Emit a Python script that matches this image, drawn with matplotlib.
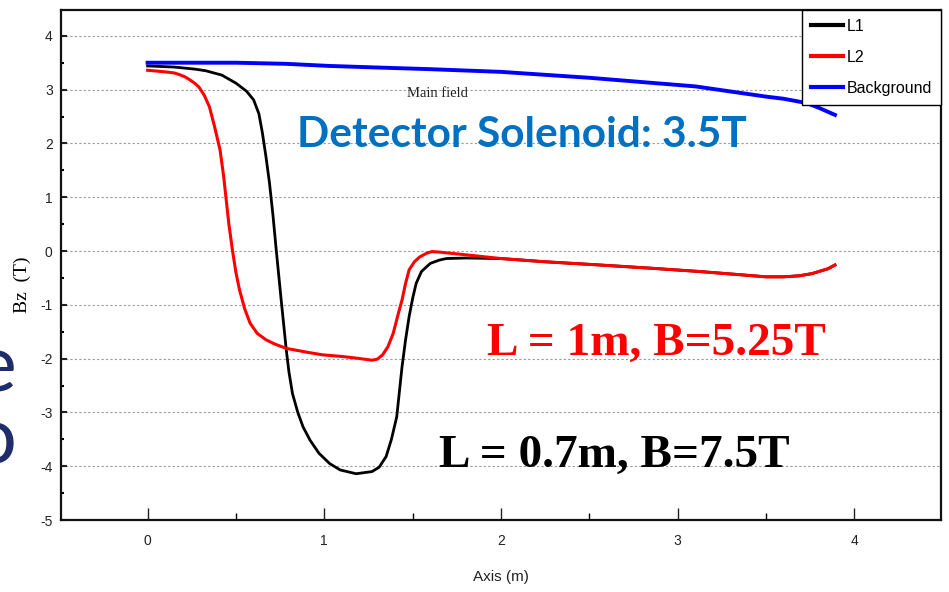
import matplotlib
matplotlib.use('Agg')
import matplotlib.pyplot as plt
from matplotlib.ticker import MultipleLocator

plt.rcParams['axes.unicode_minus'] = False

# ---------------- data ----------------
l1_x = [0.0, 0.15, 0.27, 0.33, 0.42, 0.50, 0.56, 0.60, 0.63, 0.65, 0.67, 0.69, 0.71, 0.728,
        0.756, 0.785, 0.80, 0.82, 0.85, 0.88, 0.92, 0.97, 1.03, 1.09, 1.18, 1.27, 1.31,
        1.35, 1.38, 1.41, 1.44, 1.46, 1.48, 1.50, 1.52, 1.55, 1.60, 1.65, 1.69, 1.80,
        2.00, 2.25, 2.56, 2.85, 3.12, 3.35, 3.50, 3.60, 3.69, 3.76, 3.80, 3.85, 3.89]
l1_y = [3.44, 3.42, 3.38, 3.35, 3.27, 3.12, 2.97, 2.81, 2.55, 2.19, 1.75, 1.26, 0.65, 0.02,
        -0.91, -1.84, -2.25, -2.65, -3.00, -3.27, -3.52, -3.76, -3.95, -4.07, -4.14, -4.10, -4.02,
        -3.82, -3.50, -3.08, -2.15, -1.65, -1.22, -0.88, -0.60, -0.38, -0.23, -0.17, -0.14, -0.13,
        -0.14, -0.20, -0.26, -0.32, -0.38, -0.44, -0.48, -0.48, -0.46, -0.42, -0.38, -0.33, -0.26]

l2_x = [0.0, 0.10, 0.15, 0.18, 0.21, 0.24, 0.27, 0.29, 0.32, 0.35, 0.38, 0.41, 0.43, 0.445, 0.46, 0.48,
        0.50, 0.52, 0.55, 0.58, 0.62, 0.67, 0.72, 0.785, 0.90, 0.99, 1.10, 1.18, 1.27,
        1.30, 1.33, 1.36, 1.39, 1.42, 1.44, 1.46, 1.48, 1.51, 1.54, 1.58, 1.61, 1.65,
        1.77, 2.00, 2.25, 2.56, 2.85, 3.12, 3.35, 3.50, 3.60, 3.69, 3.76, 3.80, 3.85, 3.89]
l2_y = [3.36, 3.33, 3.31, 3.28, 3.24, 3.18, 3.11, 3.05, 2.90, 2.68, 2.30, 1.88, 1.40, 0.95, 0.50, 0.02,
        -0.40, -0.72, -1.08, -1.34, -1.53, -1.65, -1.73, -1.81, -1.88, -1.93, -1.96, -1.99, -2.03,
        -2.01, -1.93, -1.78, -1.53, -1.15, -0.91, -0.60, -0.35, -0.20, -0.11, -0.04, -0.01, -0.02,
        -0.06, -0.14, -0.20, -0.26, -0.32, -0.38, -0.44, -0.48, -0.48, -0.46, -0.42, -0.38, -0.33, -0.26]

bg_x = [0.0, 0.50, 0.78, 1.03, 1.31, 1.60, 2.00, 2.50, 3.10, 3.50, 3.60, 3.73, 3.80, 3.89]
bg_y = [3.50, 3.50, 3.48, 3.44, 3.41, 3.38, 3.33, 3.22, 3.06, 2.87, 2.83, 2.75, 2.66, 2.53]

series_names = ["L1", "L2", "Background"]
series_colors = ["#000000", "#ff0000", "#0000ff"]

x_ticks = [0, 1, 2, 3, 4]
y_ticks = [4, 3, 2, 1, 0, -1, -2, -3, -4, -5]

# ---------------- figure ----------------
W, H = 949, 592
fig = plt.figure(figsize=(W / 100, H / 100), dpi=100)
ax = fig.add_axes([61 / W, 1 - 520 / H, (941 - 61) / W, (520 - 10) / H])

narrow = ['Liberation Sans Narrow', 'Liberation Sans', 'DejaVu Sans']

ax.plot(l1_x, l1_y, color=series_colors[0], lw=2.0, label=series_names[0], solid_joinstyle='round')
ax.plot(l2_x, l2_y, color=series_colors[1], lw=2.2, label=series_names[1], solid_joinstyle='round')
ax.plot(bg_x, bg_y, color=series_colors[2], lw=2.8, label=series_names[2], solid_joinstyle='round')

ax.set_xlim(-0.49, 4.49)
ax.set_ylim(-5, 4.48)
ax.set_xticks(x_ticks)
ax.set_yticks(y_ticks)
ax.xaxis.set_minor_locator(MultipleLocator(0.5))
ax.yaxis.set_minor_locator(MultipleLocator(0.5))
ax.tick_params(axis='x', which='major', direction='in', length=9, width=1, pad=10, colors='#222222')
ax.tick_params(axis='x', which='minor', direction='in', length=5, width=1)
ax.tick_params(axis='y', which='major', direction='in', length=4, width=1.5, pad=6, colors='#222222')
ax.tick_params(axis='y', which='minor', direction='in', length=2.5, width=1.5)
for lab in ax.get_xticklabels() + ax.get_yticklabels():
    lab.set_family(narrow)
    lab.set_fontsize(10)

ax.yaxis.grid(True, which='major', linestyle=(0, (2, 2)), color='#9a9a9a', lw=0.8)
ax.set_axisbelow(True)
for s in ax.spines.values():
    s.set_linewidth(1.6)
    s.set_color('#111111')

ax.set_xlabel('Axis (m)', family=narrow, fontsize=11, labelpad=16, color='#222222')
ax.set_ylabel('Bz  (T)', family=['Liberation Serif', 'DejaVu Serif'], fontsize=14)
ax.yaxis.set_label_coords(-30 / 880, (520 - 285) / 510)

leg = ax.legend(loc='upper right', bbox_to_anchor=(1.0, 1.0), borderaxespad=0,
                prop={'family': narrow, 'size': 11.5}, frameon=True, fancybox=False,
                edgecolor='#000000', framealpha=1, handlelength=2.0, handletextpad=0.25,
                labelspacing=1.0, borderpad=0.55)
leg.get_frame().set_linewidth(1.0)
for h in leg.get_lines():
    h.set_linewidth(3.0)


def px(x, y):
    return x / W, 1 - y / H


fig.text(*px(437, 97), 'Main field', family=['Liberation Serif', 'DejaVu Serif'],
         fontsize=10.5, ha='center', va='baseline', color='#222222')
fig.text(*px(522, 147), 'Detector Solenoid: 3.5T', family=['Lato', 'DejaVu Sans'],
         fontweight='bold', fontsize=30.5, ha='center', va='baseline', color='#0070C0')
fig.text(*px(656, 355), 'L = 1m, B=5.25T', family=['Liberation Serif', 'DejaVu Serif'],
         fontweight='bold', fontsize=34, ha='center', va='baseline', color='#ff0000')
fig.text(*px(614, 467), 'L = 0.7m, B=7.5T', family=['Liberation Serif', 'DejaVu Serif'],
         fontweight='bold', fontsize=34, ha='center', va='baseline', color='#000000')

# cut-off slide text at the left edge (it is cut off in the original slide too)
fig.text(*px(16, 392), 'e', family=['Lato', 'DejaVu Sans'], fontsize=57,
         ha='right', va='baseline', color='#1F2D6B')
fig.text(*px(17, 463), 'o', family=['Lato', 'DejaVu Sans'], fontsize=57,
         ha='right', va='baseline', color='#1F2D6B')

fig.savefig('out.png', dpi=100)
